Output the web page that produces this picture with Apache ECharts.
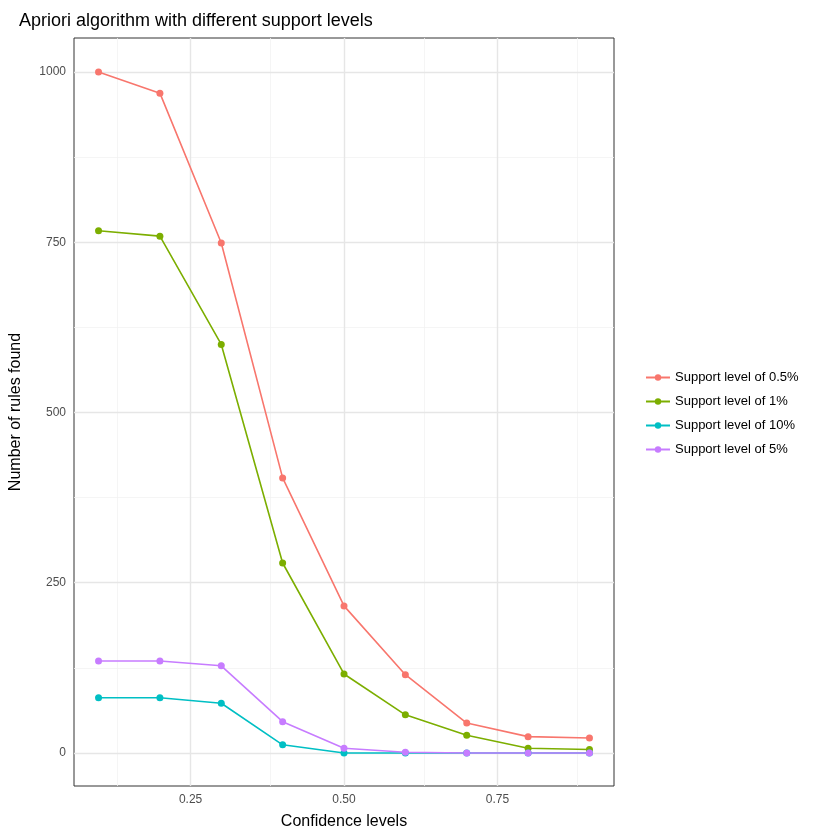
<!DOCTYPE html>
<html>
<head>
<meta charset="utf-8">
<script src="https://cdn.jsdelivr.net/npm/echarts@6/dist/echarts.min.js"></script>
<style>html,body{margin:0;background:#fff}#main{width:840px;height:840px}</style>
</head>
<body>
<div id="main"></div>
<script>
const confidence = [0.1, 0.2, 0.3, 0.4, 0.5, 0.6, 0.7, 0.8, 0.9]
const support05 = [1000, 969, 749, 404, 216, 115, 44, 24, 22]
const support1 = [767, 759, 600, 279, 116, 56, 26, 7, 5]
const support10 = [81, 81, 73, 12, 0, 0, 0, 0, 0]
const support5 = [135, 135, 128, 46, 7, 1, 0, 0, 0]
const xTicks = [0.25, 0.5, 0.75]
const xMinor = [0.125, 0.375, 0.625, 0.875]
const yTicks = [0, 250, 500, 750, 1000]
const yMinor = [125, 375, 625, 875]

const names = ['Support level of 0.5%', 'Support level of 1%', 'Support level of 10%', 'Support level of 5%']
const colors = ['#F8766D', '#7CAE00', '#00BFC4', '#C77CFF']
const values = [support05, support1, support10, support5]

const minorStyle = { color: '#f2f2f2', width: 0.8, type: 'solid' }
const majorStyle = { color: '#e6e6e6', width: 1.4, type: 'solid' }
const gridLines = [
  ...xMinor.map(v => ({ xAxis: v, lineStyle: minorStyle })),
  ...yMinor.map(v => ({ yAxis: v, lineStyle: minorStyle })),
  ...xTicks.map(v => ({ xAxis: v, lineStyle: majorStyle })),
  ...yTicks.map(v => ({ yAxis: v, lineStyle: majorStyle }))
]

const chart = echarts.init(document.getElementById('main'))
chart.setOption({
  animation: false,
  title: {
    text: 'Apriori algorithm with different support levels',
    left: 14, top: 7,
    textStyle: { fontFamily: 'Liberation Sans', fontSize: 18, fontWeight: 'normal', color: '#000' }
  },
  legend: {
    orient: 'vertical', left: 640, top: 366, itemGap: 11,
    itemWidth: 24, itemHeight: 8,
    data: names,
    textStyle: { fontFamily: 'Liberation Sans', fontSize: 13, color: '#000' }
  },
  grid: { left: 72, top: 38, right: 226, bottom: 54, show: true, borderColor: '#333', borderWidth: 1 },
  xAxis: {
    type: 'value', min: 0.06, max: 0.94,
    name: 'Confidence levels', nameLocation: 'middle', nameGap: 28,
    nameTextStyle: { fontFamily: 'Liberation Sans', fontSize: 16, color: '#000' },
    axisLine: { show: false },
    splitLine: { show: false },
    axisTick: { show: false },
    axisLabel: { customValues: xTicks, formatter: v => v.toFixed(2), color: '#4d4d4d', fontSize: 12, fontFamily: 'Liberation Sans' }
  },
  yAxis: {
    type: 'value', min: -48.5, max: 1050,
    name: 'Number of rules found', nameLocation: 'middle', nameGap: 50,
    nameTextStyle: { fontFamily: 'Liberation Sans', fontSize: 16, color: '#000' },
    axisLine: { show: false },
    splitLine: { show: false },
    axisTick: { show: false },
    axisLabel: { customValues: yTicks, formatter: v => String(v), color: '#4d4d4d', fontSize: 12, fontFamily: 'Liberation Sans' }
  },
  series: [
    {
      type: 'line', data: [], silent: true, z: 0,
      markLine: { silent: true, z: 0, symbol: 'none', label: { show: false }, data: gridLines }
    },
    ...names.map((n, i) => ({
      name: n, type: 'line', z: 5,
      data: confidence.map((c, j) => [c, values[i][j]]),
      symbol: 'circle', symbolSize: 7,
      itemStyle: { color: colors[i] },
      lineStyle: { color: colors[i], width: 1.6 }
    }))
  ]
})
</script>
</body>
</html>
